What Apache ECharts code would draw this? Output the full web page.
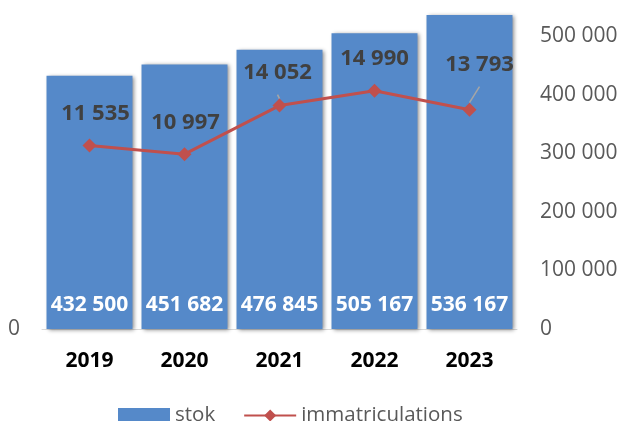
<!DOCTYPE html>
<html><head><meta charset="utf-8">
<script src="https://cdn.jsdelivr.net/npm/echarts@6/dist/echarts.min.js"></script>
<style>html,body{margin:0;padding:0;background:#fff}#c{width:621px;height:421px}</style>
</head><body><div id="c"></div>
<script>
const categories = ['2019', '2020', '2021', '2022', '2023'];
const stok = [432500, 451682, 476845, 505167, 536167];
const immatriculations = [11535, 10997, 14052, 14990, 13793];
const rightTicks = [0, 100000, 200000, 300000, 400000, 500000];

// label layout offsets (styling, not data)
const lineLabelOffsets = [[6, -9], [1, -8], [-2, -10], [0, -9], [10, -22]];
const leader = [false, false, true, false, true];

function fmt(v) { return String(v).replace(/\B(?=(\d{3})+(?!\d))/g, ' '); }
const FONT = 'Open Sans';

const chart = echarts.init(document.getElementById('c'));
chart.setOption({
  animation: false,
  textStyle: { fontFamily: FONT },
  grid: { left: 42, right: 104, top: 11, bottom: 92 },
  legend: {
    left: 113, top: 400, itemGap: 28, itemWidth: 52, itemHeight: 15,
    textStyle: { fontSize: 20.5, color: '#595959', fontFamily: FONT },
    data: [
      { name: 'stok', icon: 'rect' },
      { name: 'immatriculations' }
    ]
  },
  xAxis: {
    type: 'category', data: categories,
    axisLine: { lineStyle: { color: '#d9d9d9', width: 1 } },
    axisTick: { show: false },
    axisLabel: { fontSize: 21, fontWeight: 'bold', color: '#000', margin: 22, fontFamily: FONT }
  },
  yAxis: [
    {
      type: 'value', position: 'left', min: 0, max: 20000, interval: 5000,
      splitLine: { show: false },
      axisLabel: { fontSize: 21, color: '#595959', margin: 22,
        formatter: v => v === 0 ? '0' : '' }
    },
    {
      type: 'value', position: 'right', min: 0, max: 543000, interval: 100000,
      splitLine: { show: false },
      axisLabel: { fontSize: 21, color: '#595959', margin: 23, showMaxLabel: false,
        formatter: v => rightTicks.indexOf(v) >= 0 ? fmt(v) : '' }
    }
  ],
  series: [
    {
      name: 'stok', type: 'bar', yAxisIndex: 1, data: stok,
      barCategoryGap: '9.5%',
      itemStyle: { color: '#5589C9', shadowColor: 'rgba(0,0,0,0.45)', shadowBlur: 4, shadowOffsetX: 2, shadowOffsetY: 1 },
      label: { show: true, position: 'insideBottom', distance: 13, color: '#fff',
        fontSize: 21, fontWeight: 'bold', formatter: p => fmt(p.value) }
    },
    {
      name: 'immatriculations', type: 'line', yAxisIndex: 0,
      data: immatriculations.map((v, i) => ({
        value: v,
        label: { offset: lineLabelOffsets[i] },
        labelLine: { show: leader[i], lineStyle: { color: '#a6a6a6', width: 1.5 } }
      })),
      symbol: 'diamond', symbolSize: 14,
      lineStyle: { color: '#C0504D', width: 3 },
      itemStyle: { color: '#C0504D' },
      label: { show: true, position: 'top', distance: 5, color: '#404040',
        fontSize: 22, fontWeight: 'bold', formatter: p => fmt(p.value) }
    }
  ]
});
</script>
</body></html>
